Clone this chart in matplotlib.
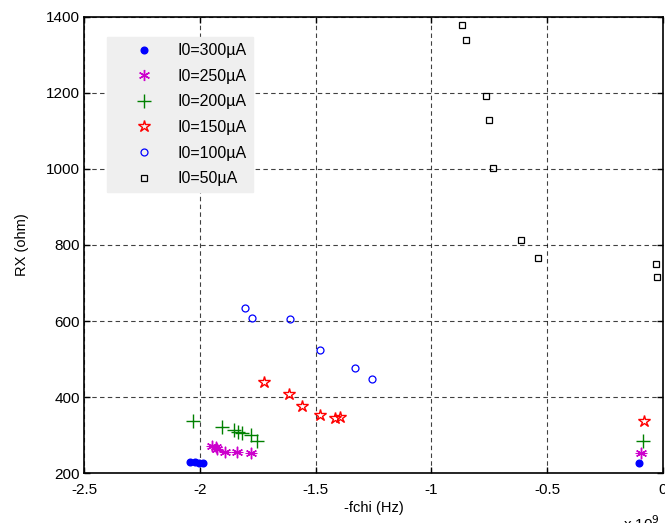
import matplotlib
matplotlib.use("Agg")
import matplotlib.pyplot as plt

plt.rcParams['font.family'] = ['Liberation Sans', 'DejaVu Sans']

# x values in units of 1e9 Hz (-fchi), y values RX (ohm)
x300 = [-2.042, -2.021, -2.003, -1.985, -0.104]
y300 = [230, 230, 228, 226, 226]

x250 = [-1.949, -1.931, -1.927, -1.891, -1.840, -1.780, -0.095]
y250 = [272, 268, 264, 257, 257, 253, 253]

x200 = [-2.028, -1.905, -1.852, -1.834, -1.819, -1.780, -1.752, -0.088]
y200 = [337, 322, 314, 309, 305, 301, 286, 285]

x150 = [-1.724, -1.615, -1.557, -1.482, -1.415, -1.395, -0.082]
y150 = [439, 408, 376, 354, 346, 347, 337]

x100 = [-1.803, -1.773, -1.612, -1.480, -1.330, -1.255]
y100 = [634, 609, 605, 525, 476, 448]

x50 = [-0.868, -0.849, -0.764, -0.753, -0.734, -0.613, -0.538, -0.030, -0.025]
y50 = [1378, 1339, 1191, 1128, 1002, 813, 767, 749, 715]

labels = ['I0=300µA', 'I0=250µA', 'I0=200µA', 'I0=150µA', 'I0=100µA', 'I0=50µA']

xticks = [-2.5, -2, -1.5, -1, -0.5, 0]
xticklabels = ['-2.5', '-2', '-1.5', '-1', '-0.5', '0']
yticks = [200, 400, 600, 800, 1000, 1200, 1400]

fig = plt.figure(figsize=(6.65, 5.23), dpi=100)
ax = fig.add_axes([84/665, (523-473.3)/523, (663-84)/665, (473.3-16.7)/523])

ax.plot(x300, y300, linestyle='none', marker='o', ms=4.8, color='#0000ff', mec='#0000ff', label=labels[0])
ax.plot(x250, y250, linestyle='none', marker=(6, 2, 0), ms=8, color='#cc00cc', mew=1.0, label=labels[1])
ax.plot(x250, y250, linestyle='none', marker='+', ms=9, color='#cc00cc', mew=0.8)
ax.plot(x200, y200, linestyle='none', marker='+', ms=10, color='#008000', mew=1.0, label=labels[2])
ax.plot(x150, y150, linestyle='none', marker='*', ms=9, mfc='none', mec='#ff0000', mew=1.0, label=labels[3])
ax.plot(x100, y100, linestyle='none', marker='o', ms=5, mfc='none', mec='#0000ff', mew=0.9, label=labels[4])
ax.plot(x50, y50, linestyle='none', marker='s', ms=5, mfc='none', mec='#000000', mew=0.9, label=labels[5])

ax.set_xlim(-2.5, 0)
ax.set_ylim(200, 1400)
ax.set_xticks(xticks)
ax.set_xticklabels(xticklabels)
ax.set_yticks(yticks)
ax.tick_params(direction='in', length=4, labelsize=11, width=1, top=True, right=True)
ax.tick_params(axis='x', pad=7)
ax.tick_params(axis='y', pad=3)
ax.grid(True, color='black', linestyle=(0, (4, 3)), linewidth=0.8, alpha=0.75)
for s in ax.spines.values():
    s.set_linewidth(1.2)

ax.set_xlabel('-fchi (Hz)', fontsize=10.5, labelpad=3)
ax.set_ylabel('RX (ohm)', fontsize=10.5, labelpad=12)

leg = ax.legend(loc='upper left', bbox_to_anchor=((107-84)/579, 1-(37-16.7)/456.6),
                prop={'size': 11.5}, frameon=True, fancybox=False, labelspacing=0.66,
                handletextpad=0.2, borderpad=0.4, handlelength=3.8, borderaxespad=0)
leg.get_frame().set_facecolor('#efefef')
leg.get_frame().set_edgecolor('#efefef')
leg.get_frame().set_alpha(1)

fig.text(623/665, 1-514/523, 'x 10$^{9}$', fontsize=11, ha='left', va='top')

fig.savefig('out.png', dpi=100)
